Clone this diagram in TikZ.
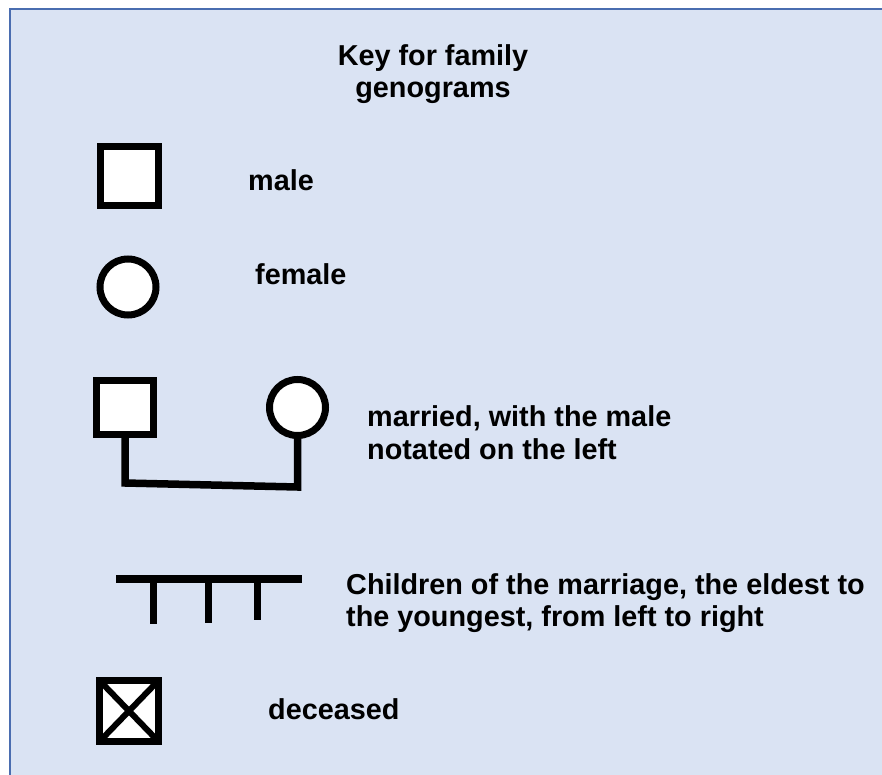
\documentclass[tikz,border=0pt]{standalone}
\usepackage{fontspec}
\setmainfont{Liberation Sans}
\begin{document}
\begin{tikzpicture}[x=1pt,y=-1pt,
  symline/.style={line width=7pt,draw=black},
  malebox/.style={symline,fill=white,rectangle,inner sep=0pt},
  femalebox/.style={symline,fill=white,circle,inner sep=0pt},
  link/.style={line width=7.5pt,line join=miter},
  keytext/.style={inner sep=0pt,anchor=base west,font=\bfseries\fontsize{28.8}{33}\selectfont},
  titletext/.style={inner sep=0pt,anchor=base,font=\bfseries\fontsize{28.8}{33}\selectfont}]
\definecolor{panelfill}{HTML}{DAE3F3}
\definecolor{panelline}{HTML}{4A6DB0}
\useasboundingbox (0,0) rectangle (882,775);
\fill[white] (0,0) rectangle (882,775);
% panel
\filldraw[fill=panelfill,draw=panelline,line width=1.4pt] (10,9) rectangle (900,800);

% title
\node[titletext] (title1) at (433,66) {Key for family};
\node[titletext] (title2) at (433,98) {genograms};

% male
\node[malebox,minimum width=58,minimum height=59] (male) at (129.5,176) {};
\node[keytext] (maletxt) at (248,191) {male};

% female
\node[femalebox,minimum size=56] (female) at (128,287) {};
\node[keytext] (femaletxt) at (255,284) {female};

% married couple
\node[malebox,minimum width=57,minimum height=54] (msq) at (125,407.5) {};
\node[femalebox,minimum size=56] (mci) at (297.5,407.5) {};
\draw[link] (msq.south) -- (msq.south |- 0,483) -- (mci.south |- 0,487) -- (mci.south);
\node[keytext] (married1) at (367,426) {married, with the male};
\node[keytext] (married2) at (367,459) {notated on the left};

% children line
\coordinate (barL) at (116,579);
\coordinate (barR) at (302,579);
\draw[line width=8pt] (barL) -- (barR);
\draw[line width=7pt] (153,579) -- (153,624);
\draw[line width=7pt] (208,579) -- (208,623);
\draw[line width=7pt] (257,579) -- (257,620);
\node[keytext] (child1) at (346,594) {Children of the marriage, the eldest to};
\node[keytext] (child2) at (346,626) {the youngest, from left to right};

% deceased: box with a cross between its inner corners
\node[malebox,minimum width=59,minimum height=61] (dec) at (129,711) {};
\begin{scope}
  \clip ([shift={(3.5,3.5)}]dec.north west) rectangle ([shift={(-3.5,-3.5)}]dec.south east);
  \draw[line width=6pt] ([shift={(3.5,3.5)}]dec.north west) -- ([shift={(-3.5,-3.5)}]dec.south east);
  \draw[line width=6pt] ([shift={(-3.5,3.5)}]dec.north east) -- ([shift={(3.5,-3.5)}]dec.south west);
\end{scope}
\node[keytext] (dectxt) at (268,719) {deceased};
\end{tikzpicture}
\end{document}
